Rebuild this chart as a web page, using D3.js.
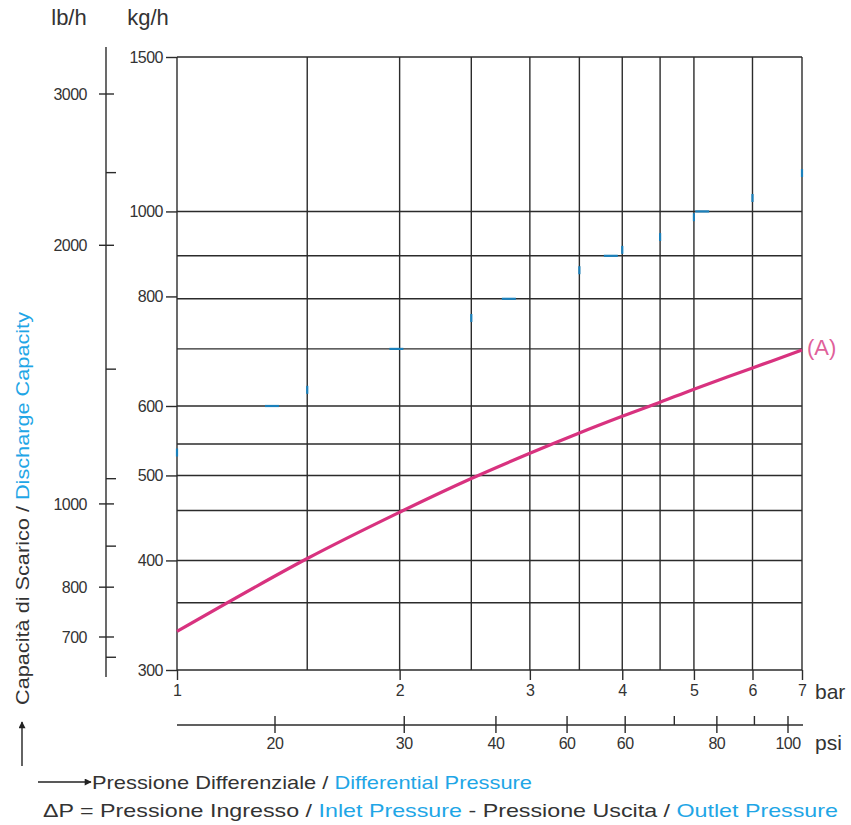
<!DOCTYPE html>
<html>
<head>
<meta charset="utf-8">
<script src="https://cdn.jsdelivr.net/npm/d3@7"></script>
<style>
  html, body { margin: 0; padding: 0; background: #fff; }
  svg { display: block; font-family: "Liberation Sans", Arial, sans-serif; }
</style>
</head>
<body>
<svg id="chart" width="851" height="825"></svg>
<script>
// ---------- data ----------
const barTicks = [1, 2, 3, 4, 5, 6, 7];
const barGrid = [1, 1.5, 2, 2.5, 3, 3.5, 4, 4.5, 5, 6, 7];
const kgTicks = [300, 400, 500, 600, 800, 1000, 1500];
const kgGrid = [300, 358, 400, 456, 500, 543, 600, 697, 795, 890, 1000, 1500];
const lbTicks = [3000, 2000, 1000, 800, 700];
const lbMinor = [2430, 1435, 1070, 893, 663];
const psiTicks = [20, 30, 40, 50, 60, 70, 80, 90, 100];
const psiLabels = ["20", "30", "40", "60", "60", "", "80", "", "100"];
const curveBar = [1, 1.5, 2, 2.5, 3, 3.5, 4, 4.5, 5, 6, 7];
const curveKg = [332, 402, 454, 496, 530, 559, 584, 606, 627, 663, 695];
// remnants of a faint blue curve (bar, kg/h)
const blueBar = [1, 1.344, 1.5, 1.98, 2.5, 2.81, 3.5, 3.86, 4, 4.5, 5, 5.13, 6, 7];
const blueKg = [531, 600, 626, 697, 756, 795, 857, 890, 904, 935, 985, 1000, 1036, 1106];

// ---------- setup ----------
const svg = d3.select("#chart");
const ink = "#2b2b2b";
const txt = "#333";
const blueText = "#1fa6e6";
const pink = "#d8327f";
const FONT = "'Liberation Sans', Arial, sans-serif";
const TICK_FS = "16px";

const x = d3.scaleLog().domain([1, 7]).range([177, 802]);
const y = d3.scaleLog().domain([300, 1500]).range([670, 57]);
const yLb = d3.scaleLog().domain([3000, 700]).range([94, 637]);
const xPsi = d3.scaleLog().domain([20, 100]).range([275, 788]);

// ---------- grid ----------
const grid = svg.append("g").attr("stroke", ink).attr("stroke-width", 1.4);
grid.selectAll("line.v").data(barGrid).join("line").attr("class", "v")
  .attr("x1", d => x(d)).attr("x2", d => x(d))
  .attr("y1", y(1500)).attr("y2", y(300));
grid.selectAll("line.h").data(kgGrid).join("line").attr("class", "h")
  .attr("x1", x(1)).attr("x2", x(7))
  .attr("y1", d => y(d)).attr("y2", d => y(d));

// ---------- kg/h axis ----------
const kgAxis = d3.axisLeft(y).tickValues(kgTicks).tickSize(11).tickPadding(3)
  .tickFormat(d3.format("d"));
const gk = svg.append("g").attr("transform", `translate(${x(1)},0)`).call(kgAxis);
gk.attr("font-size", null).attr("font-family", null);
gk.select(".domain").remove();
gk.selectAll("line").attr("stroke", ink).attr("stroke-width", 1.4);
gk.selectAll("text").attr("fill", txt).style("font-size", TICK_FS)
  .style("font-family", FONT).attr("letter-spacing", -0.5);

// ---------- bar axis ----------
const barAxis = d3.axisBottom(x).tickValues(barTicks).tickSize(10).tickPadding(5)
  .tickFormat(d3.format("d"));
const gb = svg.append("g").attr("transform", `translate(0,${y(300)})`).call(barAxis);
gb.attr("font-size", null).attr("font-family", null);
gb.select(".domain").remove();
gb.selectAll("line").attr("stroke", ink).attr("stroke-width", 1.4);
gb.selectAll("text").attr("fill", txt).style("font-size", TICK_FS).style("font-family", FONT);
svg.append("text").attr("x", 815).attr("y", 699).style("font-size", "21px")
  .attr("fill", txt).text("bar");

// ---------- psi axis ----------
const psiY = 725;
const gp = svg.append("g");
gp.append("line").attr("x1", x(1)).attr("x2", 803).attr("y1", psiY).attr("y2", psiY)
  .attr("stroke", ink).attr("stroke-width", 1.4);
gp.selectAll("line.t").data(psiTicks).join("line").attr("class", "t")
  .attr("x1", d => xPsi(d)).attr("x2", d => xPsi(d))
  .attr("y1", psiY - 9).attr("y2", (d, i) => psiLabels[i] ? psiY + 8 : psiY)
  .attr("stroke", ink).attr("stroke-width", 1.4);
gp.selectAll("text").data(psiTicks).join("text")
  .attr("x", d => xPsi(d)).attr("y", psiY + 24)
  .attr("text-anchor", "middle").style("font-size", TICK_FS).attr("fill", txt)
  .attr("letter-spacing", -0.5)
  .text((d, i) => psiLabels[i]);
svg.append("text").attr("x", 815).attr("y", 750).style("font-size", "21px")
  .attr("fill", txt).text("psi");

// ---------- lb/h axis ----------
const lbX = 106;
const gl = svg.append("g");
gl.append("line").attr("x1", lbX).attr("x2", lbX).attr("y1", 47).attr("y2", 677)
  .attr("stroke", ink).attr("stroke-width", 1.4);
gl.selectAll("line.maj").data(lbTicks).join("line").attr("class", "maj")
  .attr("x1", lbX - 7).attr("x2", lbX + 8)
  .attr("y1", d => yLb(d)).attr("y2", d => yLb(d))
  .attr("stroke", ink).attr("stroke-width", 1.4);
gl.selectAll("line.min").data(lbMinor).join("line").attr("class", "min")
  .attr("x1", lbX).attr("x2", lbX + 10)
  .attr("y1", d => yLb(d)).attr("y2", d => yLb(d))
  .attr("stroke", ink).attr("stroke-width", 1.4);
gl.selectAll("text").data(lbTicks).join("text")
  .attr("x", 87).attr("y", d => yLb(d)).attr("dy", "0.35em")
  .attr("text-anchor", "end").style("font-size", TICK_FS).attr("fill", txt)
  .attr("letter-spacing", -0.5)
  .text(d => d);

// unit headers
svg.append("text").attr("x", 69).attr("y", 25).attr("text-anchor", "middle")
  .style("font-size", "22px").attr("fill", txt).text("lb/h");
svg.append("text").attr("x", 148).attr("y", 25).attr("text-anchor", "middle")
  .style("font-size", "22px").attr("fill", txt).text("kg/h");

// ---------- blue remnants ----------
const isGridBar = b => barGrid.includes(b);
svg.append("g").selectAll("line").data(blueBar.map((b, i) => [b, blueKg[i]])).join("line")
  .attr("x1", d => isGridBar(d[0]) ? x(d[0]) : x(d[0]) - 7)
  .attr("x2", d => isGridBar(d[0]) ? x(d[0]) : x(d[0]) + 7)
  .attr("y1", d => isGridBar(d[0]) ? y(d[1]) - 4 : y(d[1]))
  .attr("y2", d => isGridBar(d[0]) ? y(d[1]) + 4 : y(d[1]))
  .attr("stroke", "#1a80bb").attr("stroke-width", 2.2);

// ---------- curve A ----------
const line = d3.line().x(d => x(d[0])).y(d => y(d[1])).curve(d3.curveCatmullRom.alpha(0.5));
svg.append("path").datum(curveBar.map((b, i) => [b, curveKg[i]]))
  .attr("d", line).attr("fill", "none").attr("stroke", pink).attr("stroke-width", 3.2);
svg.append("text").attr("x", 807).attr("y", 355).style("font-size", "22px")
  .attr("fill", "#e0609a").text("(A)");

// ---------- axis titles ----------
const yt = svg.append("text").attr("transform", "translate(29,705) rotate(-90)")
  .style("font-size", "18px").attr("fill", txt)
  .attr("textLength", 393).attr("lengthAdjust", "spacingAndGlyphs");
yt.append("tspan").text("Capacità di Scarico / ");
yt.append("tspan").attr("fill", blueText).text("Discharge Capacity");

// arrows
const defs = svg.append("defs");
defs.append("marker").attr("id", "ah").attr("viewBox", "0 0 10 10")
  .attr("refX", 9).attr("refY", 5).attr("markerWidth", 10).attr("markerHeight", 7)
  .attr("markerUnits", "userSpaceOnUse").attr("orient", "auto")
  .append("path").attr("d", "M0,0 L10,5 L0,10 z").attr("fill", "#222");
svg.append("line").attr("x1", 22).attr("x2", 22).attr("y1", 766).attr("y2", 722)
  .attr("stroke", "#222").attr("stroke-width", 1.4).attr("marker-end", "url(#ah)");
svg.append("line").attr("x1", 38).attr("x2", 91).attr("y1", 782).attr("y2", 782)
  .attr("stroke", "#222").attr("stroke-width", 1.4).attr("marker-end", "url(#ah)");

const t1 = svg.append("text").attr("x", 92).attr("y", 789).style("font-size", "18.5px")
  .attr("fill", txt).attr("textLength", 440).attr("lengthAdjust", "spacingAndGlyphs");
t1.append("tspan").text("Pressione Differenziale / ");
t1.append("tspan").attr("fill", blueText).text("Differential Pressure");

const t2 = svg.append("text").attr("x", 43).attr("y", 817).style("font-size", "18.5px")
  .attr("fill", txt).attr("textLength", 795).attr("lengthAdjust", "spacingAndGlyphs");
t2.append("tspan").text("ΔP = Pressione Ingresso / ");
t2.append("tspan").attr("fill", blueText).text("Inlet Pressure");
t2.append("tspan").text(" - Pressione Uscita / ");
t2.append("tspan").attr("fill", blueText).text("Outlet Pressure");
</script>
</body>
</html>
